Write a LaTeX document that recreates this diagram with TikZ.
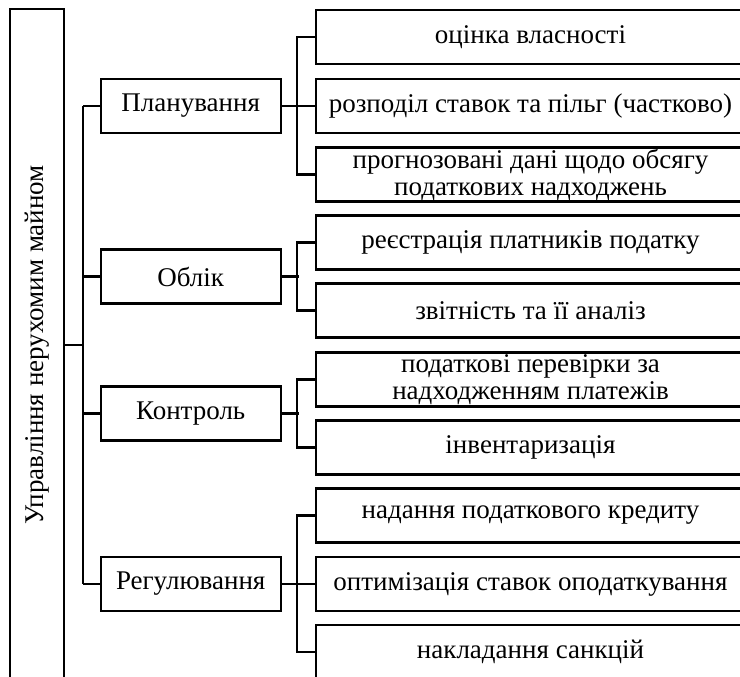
\documentclass[tikz,border=0pt]{standalone}
\usepackage{fontspec}
\setmainfont{Liberation Serif}
\begin{document}
\begin{tikzpicture}[x=1pt,y=-1pt,
  box/.style={draw,line width=2.2pt,inner sep=0pt,align=center,font=\fontsize{27}{27}\selectfont},
  mid/.style={box,minimum width=180pt,minimum height=54pt},
  sub/.style={box,minimum width=429pt,minimum height=54pt},
  conn/.style={line width=2.2pt}]
\useasboundingbox (0,0) rectangle (740,677);
\begin{scope}
\clip (0,0) rectangle (740,677);
\node[box,minimum width=672pt,minimum height=54pt,rotate=90] (root) at (37,345) {Управління нерухомим майном};
\node[mid] (m1) at (190.7,106) {Планування};
\node[mid] (m2) at (190.7,276.5) {Облік};
\node[mid] (m3) at (190.7,413.5) {Контроль};
\node[mid] (m4) at (190.7,584) {Регулювання};
\node[sub] (s1) at (530.5,37) {оцінка власності};
\node[sub] (s2) at (530.5,106) {розподіл ставок та пільг (частково)};
\node[sub] (s3) at (530.5,174.5) {прогнозовані дані щодо обсягу\\податкових надходжень};
\node[sub] (s4) at (530.5,242.5) {реєстрація платників податку};
\node[sub] (s5) at (530.5,310.5) {звітність та її аналіз};
\node[sub] (s6) at (530.5,379.5) {податкові перевірки за\\надходженням платежів};
\node[sub] (s7) at (530.5,447.5) {інвентаризація};
\node[sub] (s8) at (530.5,515.5) {надання податкового кредиту};
\node[sub] (s9) at (530.5,584) {оптимізація ставок оподаткування};
\node[sub] (s10) at (530.5,652) {накладання санкцій};
\coordinate (t1) at (83,106);
\coordinate (t4) at (83,584);
\draw[conn] (root.south) -- (root.south -| t1);
\draw[conn] (t1) -- (t4);
\foreach \m in {m1,m2,m3,m4} \draw[conn] (\m.west -| t1) -- (\m.west);
\draw[conn] (m1.east) -- (s2.west);
\draw[conn] (s1.west) -- ++(-18,0) |- (s3.west);
\draw[conn] (m2.east) -- ++(17,0);
\draw[conn] (s4.west) -- ++(-18,0) |- (s5.west);
\draw[conn] (m3.east) -- ++(17,0);
\draw[conn] (s6.west) -- ++(-18,0) |- (s7.west);
\draw[conn] (m4.east) -- (s9.west);
\draw[conn] (s8.west) -- ++(-18,0) |- (s10.west);
\end{scope}
\end{tikzpicture}
\end{document}
